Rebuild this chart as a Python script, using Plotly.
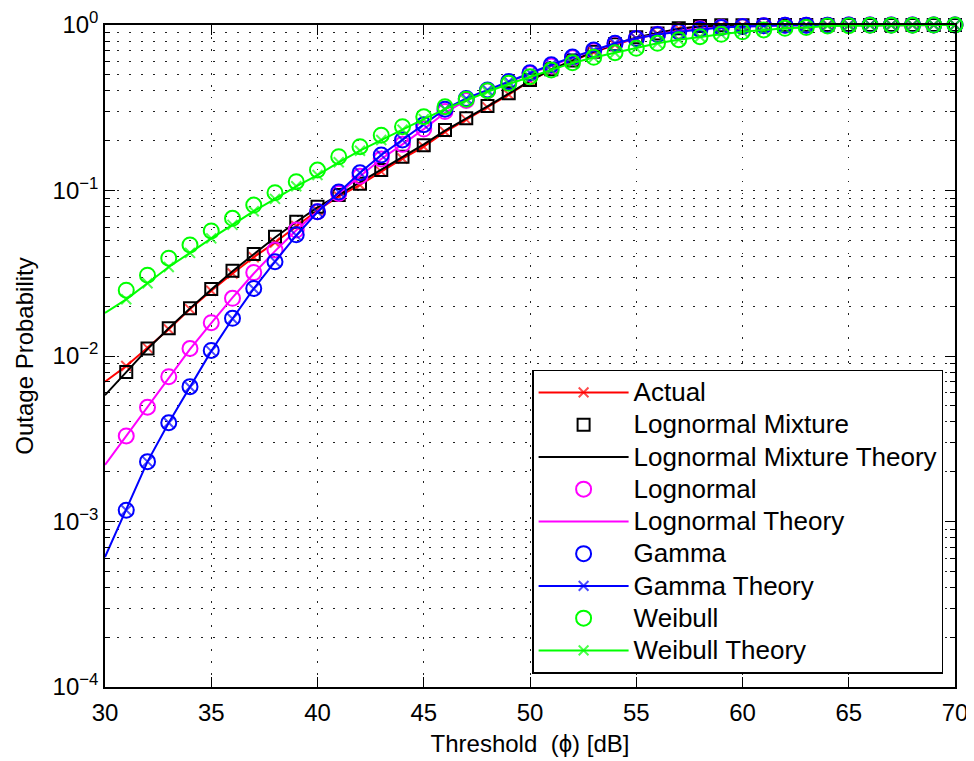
import plotly.graph_objects as go

# ---------------- data ----------------
x_sim = list(range(31, 71))        # simulated points (markers)
x_theory = list(range(30, 71))     # theory / actual curves

actual = [7.0e-3, 8.7e-3, 1.12e-2, 1.45e-2, 1.92e-2, 2.48e-2, 3.15e-2, 3.95e-2, 4.85e-2, 6.1e-2,
          7.6e-2, 9.2e-2, 0.108, 0.130, 0.156, 0.184, 0.226, 0.268, 0.318, 0.380,
          0.460, 0.535, 0.605, 0.685, 0.76, 0.83, 0.885, 0.95, 0.98, 0.99,
          0.995, 0.997, 0.998, 0.999, 0.999, 1.0, 1.0, 1.0, 1.0, 1.0, 1.0]

lognormal_mixture = [8.0e-3, 1.11e-2, 1.47e-2, 1.94e-2, 2.54e-2, 3.27e-2, 4.13e-2, 5.26e-2, 6.48e-2, 7.98e-2,
                     9.4e-2, 0.110, 0.133, 0.160, 0.188, 0.232, 0.273, 0.324, 0.387, 0.465,
                     0.54, 0.61, 0.69, 0.765, 0.843, 0.89, 0.955, 0.985, 0.995, 0.998,
                     0.999, 1.0, 1.0, 1.0, 1.0, 1.0, 1.0, 1.0, 1.0, 1.0]

lognormal_mixture_theory = [5.8e-3, 8.0e-3, 1.1e-2, 1.47e-2, 1.94e-2, 2.52e-2, 3.25e-2, 4.12e-2, 5.2e-2, 6.45e-2,
                            7.9e-2, 9.4e-2, 0.112, 0.134, 0.160, 0.190, 0.230, 0.272, 0.322, 0.385,
                            0.46, 0.54, 0.61, 0.69, 0.765, 0.84, 0.895, 0.95, 0.98, 0.993,
                            0.997, 0.999, 1.0, 1.0, 1.0, 1.0, 1.0, 1.0, 1.0, 1.0, 1.0]

lognormal = [3.29e-3, 4.9e-3, 7.5e-3, 1.11e-2, 1.59e-2, 2.23e-2, 3.19e-2, 4.37e-2, 5.77e-2, 7.45e-2,
             9.6e-2, 0.122, 0.155, 0.19, 0.235, 0.30, 0.35, 0.40, 0.45, 0.51,
             0.565, 0.635, 0.70, 0.77, 0.83, 0.88, 0.92, 0.95, 0.97, 0.98,
             0.99, 0.995, 0.997, 0.998, 0.999, 1.0, 1.0, 1.0, 1.0, 1.0]

lognormal_theory = [2.2e-3, 3.3e-3, 4.9e-3, 7.4e-3, 1.1e-2, 1.58e-2, 2.25e-2, 3.15e-2, 4.3e-2, 5.75e-2,
                    7.5e-2, 9.6e-2, 0.122, 0.155, 0.19, 0.235, 0.295, 0.35, 0.40, 0.45,
                    0.51, 0.565, 0.635, 0.70, 0.77, 0.83, 0.88, 0.92, 0.95, 0.97,
                    0.98, 0.99, 0.995, 0.997, 0.998, 0.999, 1.0, 1.0, 1.0, 1.0, 1.0]

gamma = [1.17e-3, 2.3e-3, 3.95e-3, 6.53e-3, 1.08e-2, 1.69e-2, 2.56e-2, 3.71e-2, 5.4e-2, 7.45e-2,
         9.8e-2, 0.128, 0.164, 0.202, 0.25, 0.31, 0.36, 0.405, 0.455, 0.515,
         0.575, 0.64, 0.706, 0.775, 0.83, 0.875, 0.91, 0.94, 0.965, 0.98,
         0.99, 0.995, 0.997, 0.998, 0.999, 1.0, 1.0, 1.0, 1.0, 1.0]

gamma_theory = [6.1e-4, 1.17e-3, 2.3e-3, 3.95e-3, 6.5e-3, 1.07e-2, 1.68e-2, 2.55e-2, 3.72e-2, 5.35e-2,
                7.4e-2, 9.8e-2, 0.128, 0.164, 0.202, 0.25, 0.31, 0.36, 0.405, 0.455,
                0.515, 0.575, 0.64, 0.706, 0.775, 0.83, 0.875, 0.91, 0.94, 0.965,
                0.98, 0.99, 0.995, 0.997, 0.998, 0.999, 1.0, 1.0, 1.0, 1.0, 1.0]

weibull = [2.5e-2, 3.08e-2, 3.9e-2, 4.69e-2, 5.7e-2, 6.79e-2, 8.17e-2, 9.7e-2, 0.113, 0.133,
           0.16, 0.184, 0.216, 0.243, 0.279, 0.321, 0.356, 0.401, 0.444, 0.487,
           0.535, 0.592, 0.638, 0.68, 0.723, 0.775, 0.815, 0.85, 0.878, 0.91,
           0.933, 0.955, 0.965, 0.985, 0.99, 0.995, 0.997, 0.998, 0.999, 1.0]

weibull_theory = [1.82e-2, 2.2e-2, 2.75e-2, 3.45e-2, 4.2e-2, 5.14e-2, 6.2e-2, 7.5e-2, 8.9e-2, 0.106,
                  0.124, 0.148, 0.174, 0.202, 0.233, 0.27, 0.31, 0.35, 0.395, 0.44,
                  0.485, 0.535, 0.59, 0.636, 0.68, 0.723, 0.775, 0.815, 0.85, 0.878,
                  0.91, 0.933, 0.955, 0.965, 0.985, 0.99, 0.995, 0.997, 0.998, 0.999, 1.0]

series_names = ["Actual", "Lognormal Mixture", "Lognormal Mixture Theory", "Lognormal",
                "Lognormal Theory", "Gamma", "Gamma Theory", "Weibull", "Weibull Theory"]

x_tick_vals = [30, 35, 40, 45, 50, 55, 60, 65, 70]
y_tick_vals = [1e-4, 1e-3, 1e-2, 1e-1, 1]
y_tick_text = ["10<sup>\u22124</sup>", "10<sup>\u22123</sup>", "10<sup>\u22122</sup>",
               "10<sup>\u22121</sup>", "10<sup>0</sup>"]

# ---------------- style ----------------
FONT = "Liberation Sans, Arial, Helvetica, sans-serif"
RED, BLACK, MAG, BLUE, GREEN = "#FF0000", "#000000", "#FF00FF", "#0000FF", "#00FF00"
LW = 2
CIRC = 15
XS = 10
theory_marker_sizes = [0] + [XS] * (len(x_theory) - 1)


def leg(name):
    # legend text a bit larger than the row spacing implies (as in the reference)
    return "<span style='font-size:26px'>" + name + "</span>"


fig = go.Figure()

fig.add_trace(go.Scatter(x=x_theory, y=actual, name=leg(series_names[0]), mode="lines+markers",
                         line=dict(color=RED, width=LW),
                         marker=dict(symbol="x-thin-open", size=theory_marker_sizes, color=RED,
                                     line=dict(width=LW, color=RED)),
                         cliponaxis=False))
fig.add_trace(go.Scatter(x=x_sim, y=lognormal_mixture, name=leg(series_names[1]), mode="markers",
                         marker=dict(symbol="square-open", size=12, color=BLACK, line=dict(width=LW)),
                         cliponaxis=False))
fig.add_trace(go.Scatter(x=x_theory, y=lognormal_mixture_theory, name=leg(series_names[2]),
                         mode="lines", line=dict(color=BLACK, width=LW), cliponaxis=False))
fig.add_trace(go.Scatter(x=x_sim, y=lognormal, name=leg(series_names[3]), mode="markers",
                         marker=dict(symbol="circle-open", size=CIRC, color=MAG, line=dict(width=LW)),
                         cliponaxis=False))
fig.add_trace(go.Scatter(x=x_theory, y=lognormal_theory, name=leg(series_names[4]),
                         mode="lines", line=dict(color=MAG, width=LW), cliponaxis=False))
fig.add_trace(go.Scatter(x=x_sim, y=gamma, name=leg(series_names[5]), mode="markers",
                         marker=dict(symbol="circle-open", size=CIRC, color=BLUE, line=dict(width=LW)),
                         cliponaxis=False))
fig.add_trace(go.Scatter(x=x_theory, y=gamma_theory, name=leg(series_names[6]), mode="lines+markers",
                         line=dict(color=BLUE, width=LW),
                         marker=dict(symbol="x-thin-open", size=theory_marker_sizes, color=BLUE,
                                     line=dict(width=LW, color=BLUE)),
                         cliponaxis=False))
fig.add_trace(go.Scatter(x=x_sim, y=weibull, name=leg(series_names[7]), mode="markers",
                         marker=dict(symbol="circle-open", size=CIRC, color=GREEN, line=dict(width=LW)),
                         cliponaxis=False))
fig.add_trace(go.Scatter(x=x_theory, y=weibull_theory, name=leg(series_names[8]), mode="lines+markers",
                         line=dict(color=GREEN, width=LW),
                         marker=dict(symbol="x-thin-open", size=theory_marker_sizes, color=GREEN,
                                     line=dict(width=LW, color=GREEN)),
                         cliponaxis=False))

minor_y = [k * 10.0 ** e for e in range(-4, 0) for k in range(2, 10)]
GRIDDASH = "1.5px,10.5px"
GRIDCOLOR = "#222"

# the page body has an 8px margin, so the figure is sized/offset to compensate
fig.update_layout(
    width=966, height=753,
    margin=dict(l=97, r=19, t=17, b=74),
    paper_bgcolor="white", plot_bgcolor="white",
    font=dict(family=FONT, color="black", size=24),
    showlegend=True,
    legend=dict(x=0.986, y=0.02, xanchor="right", yanchor="bottom",
                bgcolor="white", bordercolor="black", borderwidth=1.5,
                font=dict(family=FONT, size=22.5, color="black"),
                itemwidth=90, tracegroupgap=0),
    xaxis=dict(range=[30, 70], tickmode="array", tickvals=x_tick_vals, automargin=False,
               ticks="inside", ticklen=10, tickwidth=1, tickcolor="black",
               showline=True, linecolor="black", linewidth=1.5, mirror="ticks",
               showgrid=True, gridcolor=GRIDCOLOR, gridwidth=1, griddash=GRIDDASH,
               zeroline=False, tickfont=dict(size=24), ticklabelstandoff=3,
               title=dict(text="Threshold\u00a0 (\u03d5) [dB]", font=dict(size=24), standoff=11)),
    yaxis=dict(type="log", range=[-4, 0], tickmode="array", tickvals=y_tick_vals, ticktext=y_tick_text,
               automargin=False,
               ticks="inside", ticklen=10, tickwidth=1, tickcolor="black",
               showline=True, linecolor="black", linewidth=1.5, mirror="ticks",
               showgrid=True, gridcolor=GRIDCOLOR, gridwidth=1, griddash=GRIDDASH,
               zeroline=False, tickfont=dict(size=24),
               minor=dict(tickmode="array", tickvals=minor_y, ticks="inside", ticklen=5,
                          tickcolor="black", showgrid=True, gridcolor=GRIDCOLOR, gridwidth=1,
                          griddash=GRIDDASH),
               title=dict(text="Outage Probability", font=dict(size=24), standoff=12)),
)

fig.write_html("out.html")
